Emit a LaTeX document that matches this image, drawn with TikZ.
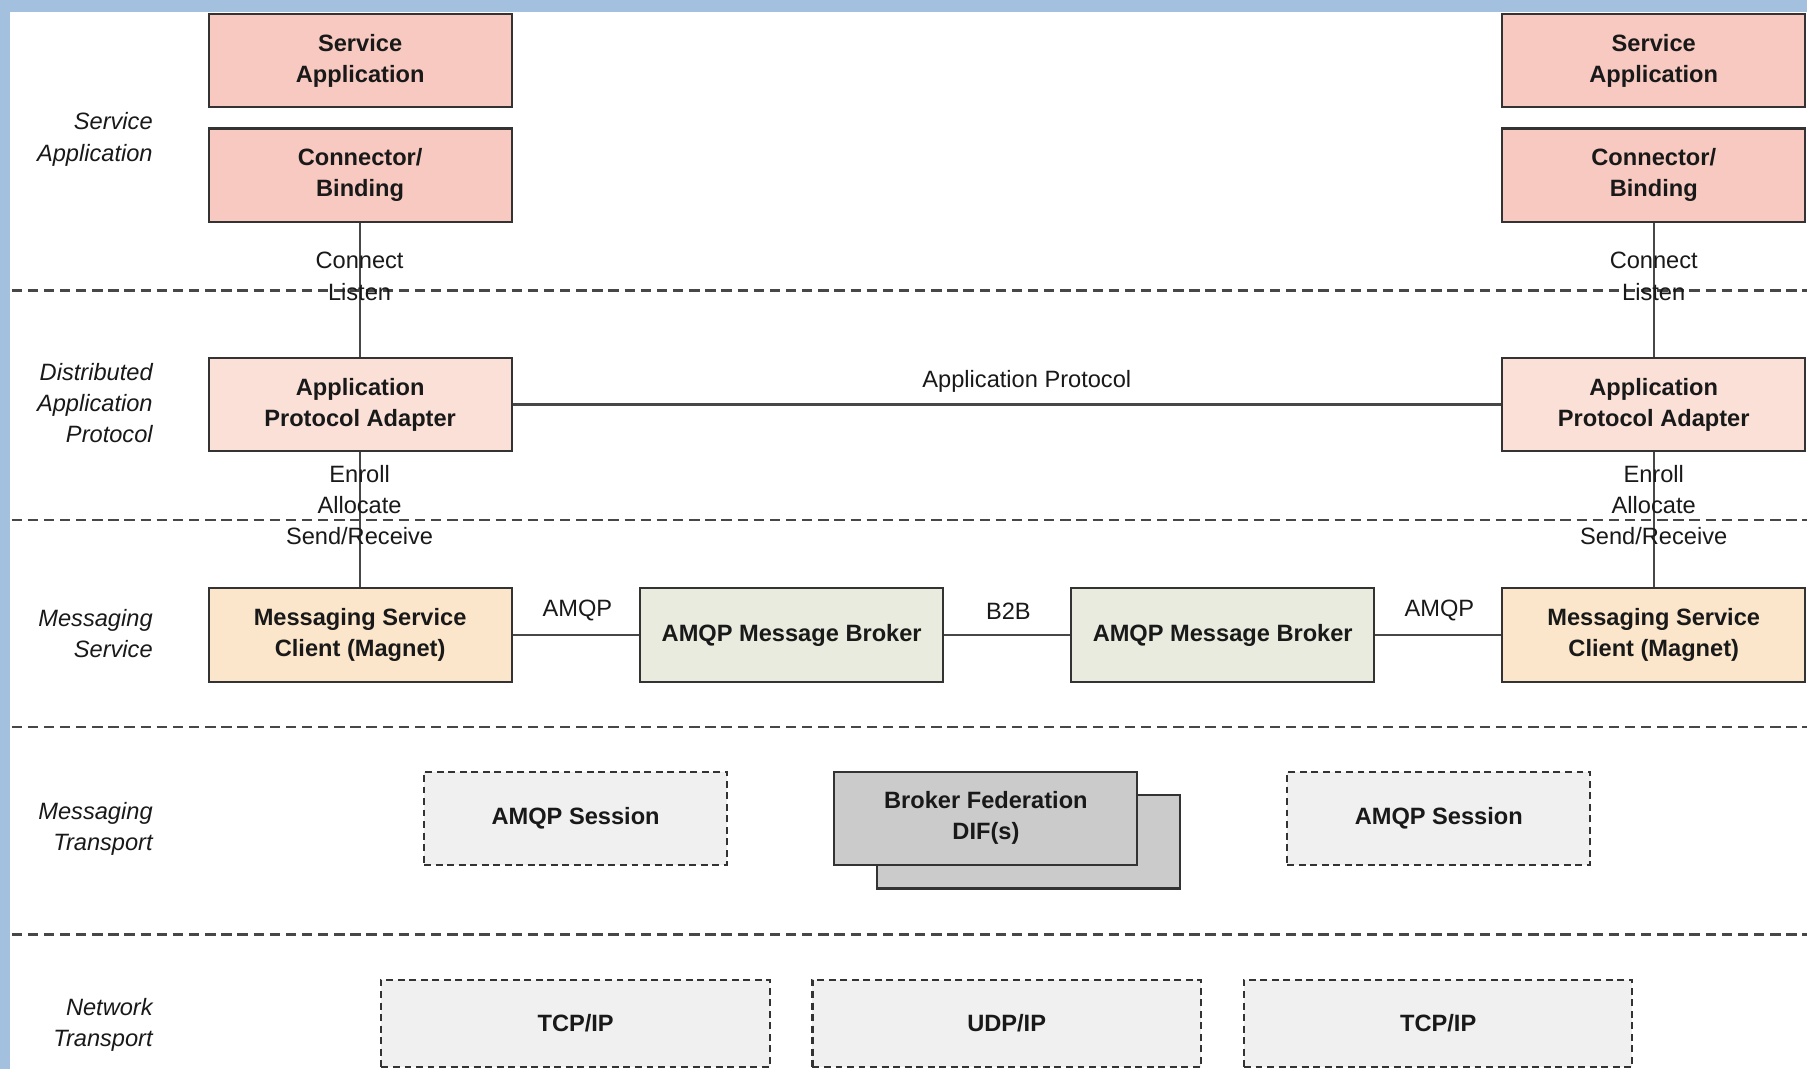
\documentclass[tikz,border=0pt]{standalone}
\usepackage{fontspec}
\setmainfont{Liberation Sans}
\usetikzlibrary{positioning}

\definecolor{bandblue}{HTML}{A3C1DF}
\definecolor{appfill}{HTML}{F7C9C0}
\definecolor{adaptfill}{HTML}{FBE0D8}
\definecolor{clientfill}{HTML}{FCE6CB}
\definecolor{brokerfill}{HTML}{E8EBDD}
\definecolor{fedfill}{HTML}{CBCBCB}
\definecolor{sessfill}{HTML}{F0F0F0}
\definecolor{edge}{HTML}{333333}

\tikzset{
  txt/.style={font=\fontsize{20.5}{27}\selectfont, text=black!90},
  blk/.style={txt, font=\fontsize{20.5}{27}\selectfont\bfseries, draw=edge, line width=1.8pt,
    minimum width=263pt, minimum height=81pt, align=center, inner sep=0pt},
  appbox/.style={blk, fill=appfill},
  adaptbox/.style={blk, fill=adaptfill},
  clientbox/.style={blk, fill=clientfill},
  brokerbox/.style={blk, fill=brokerfill},
  fedbox/.style={blk, fill=fedfill},
  sessbox/.style={blk, fill=sessfill, dash pattern=on 6pt off 4pt},
  netbox/.style={sessbox, minimum width=337pt, minimum height=76pt},
  layer/.style={txt, font=\fontsize{20.5}{27}\selectfont\itshape, align=right, anchor=east},
  lbl/.style={txt, inner sep=0pt},
  link/.style={draw=edge!90, line width=1.8pt},
  divider/.style={draw=black!72, line width=2pt, dash pattern=on 9pt off 5pt},
}

\begin{document}
\begin{tikzpicture}[x=1pt, y=-1pt]
  \useasboundingbox (0,0) rectangle (1568,928);
  \clip (0,0) rectangle (1568,928);
  \fill[white] (0,0) rectangle (1568,928);

  % window frame
  \fill[bandblue] (0,0) rectangle (1568,10);
  \fill[bandblue] (0,0) rectangle (9,928);

  % layer dividers
  \coordinate (d1a) at (10,252);  \coordinate (d1b) at (1568,252);
  \coordinate (d2a) at (10,451);  \coordinate (d2b) at (1568,451);
  \coordinate (d3a) at (10,631);  \coordinate (d3b) at (1568,631);
  \coordinate (d4a) at (10,811);  \coordinate (d4b) at (1568,811);
  \draw[divider] (d1a) -- (d1b);
  \draw[divider] (d2a) -- (d2b);
  \draw[divider] (d3a) -- (d3b);
  \draw[divider] (d4a) -- (d4b);

  % layer names
  \node[layer] (lsa) at (136,121) {Service\\Application};
  \node[layer] (ldap) at (136,350) {Distributed\\Application\\Protocol};
  \node[layer] (lms) at (136,550) {Messaging\\Service};
  \node[layer] (lmt) at (136,719) {Messaging\\Transport};
  \node[layer] (lnt) at (136,889) {Network\\Transport};

  % left stack
  \node[appbox] (saL) at (312.5,52.5) {Service\\Application};
  \node[appbox] (cbL) at (312.5,152) {Connector/\\Binding};
  \node[adaptbox] (apL) at (312.5,351) {Application\\Protocol Adapter};
  \node[clientbox] (mcL) at (312.5,551) {Messaging Service\\Client (Magnet)};

  % right stack
  \node[appbox] (saR) at (1435,52.5) {Service\\Application};
  \node[appbox] (cbR) at (1435,152) {Connector/\\Binding};
  \node[adaptbox] (apR) at (1435,351) {Application\\Protocol Adapter};
  \node[clientbox] (mcR) at (1435,551) {Messaging Service\\Client (Magnet)};

  % brokers
  \node[brokerbox] (br1) at (687,551) {AMQP Message Broker};
  \node[brokerbox] (br2) at (1061,551) {AMQP Message Broker};

  % messaging transport
  \node[sessbox] (ssL) at (499.5,710) {AMQP Session};
  \node[sessbox] (ssR) at (1248.5,710) {AMQP Session};
  \node[fedbox] (fedB) at (892.5,730.5) {};
  \node[fedbox] (fedF) at (855.5,710) {Broker Federation\\DIF(s)};

  % network transport
  \node[netbox] (tcpL) at (499.5,888) {TCP/IP};
  \node[netbox] (udp) at (873.5,888) {UDP/IP};
  \node[netbox] (tcpR) at (1248,888) {TCP/IP};

  % vertical links
  \draw[link] (cbL) -- (apL);
  \draw[link] (apL) -- (mcL);
  \draw[link] (cbR) -- (apR);
  \draw[link] (apR) -- (mcR);

  % horizontal links
  \draw[link] (apL) -- (apR);
  \draw[link] (mcL) -- (br1);
  \draw[link] (br1) -- (br2);
  \draw[link] (br2) -- (mcR);

  % link labels
  \node[lbl] (cnL) at (312,226) {Connect};
  \node[lbl] (liL) at (312,253) {Listen};
  \node[lbl] (enL) at (312,411) {Enroll};
  \node[lbl] (alL) at (312,438) {Allocate};
  \node[lbl] (srL) at (312,465) {Send/Receive};
  \node[lbl] (cnR) at (1435,226) {Connect};
  \node[lbl] (liR) at (1435,253) {Listen};
  \node[lbl] (enR) at (1435,411) {Enroll};
  \node[lbl] (alR) at (1435,438) {Allocate};
  \node[lbl] (srR) at (1435,465) {Send/Receive};
  \node[lbl] (apl) at (891,331) {Application Protocol};
  \node[lbl] (am1) at (501,530) {AMQP};
  \node[lbl] (b2b) at (875,530) {B2B};
  \node[lbl] (am2) at (1249,530) {AMQP};
\end{tikzpicture}
\end{document}
